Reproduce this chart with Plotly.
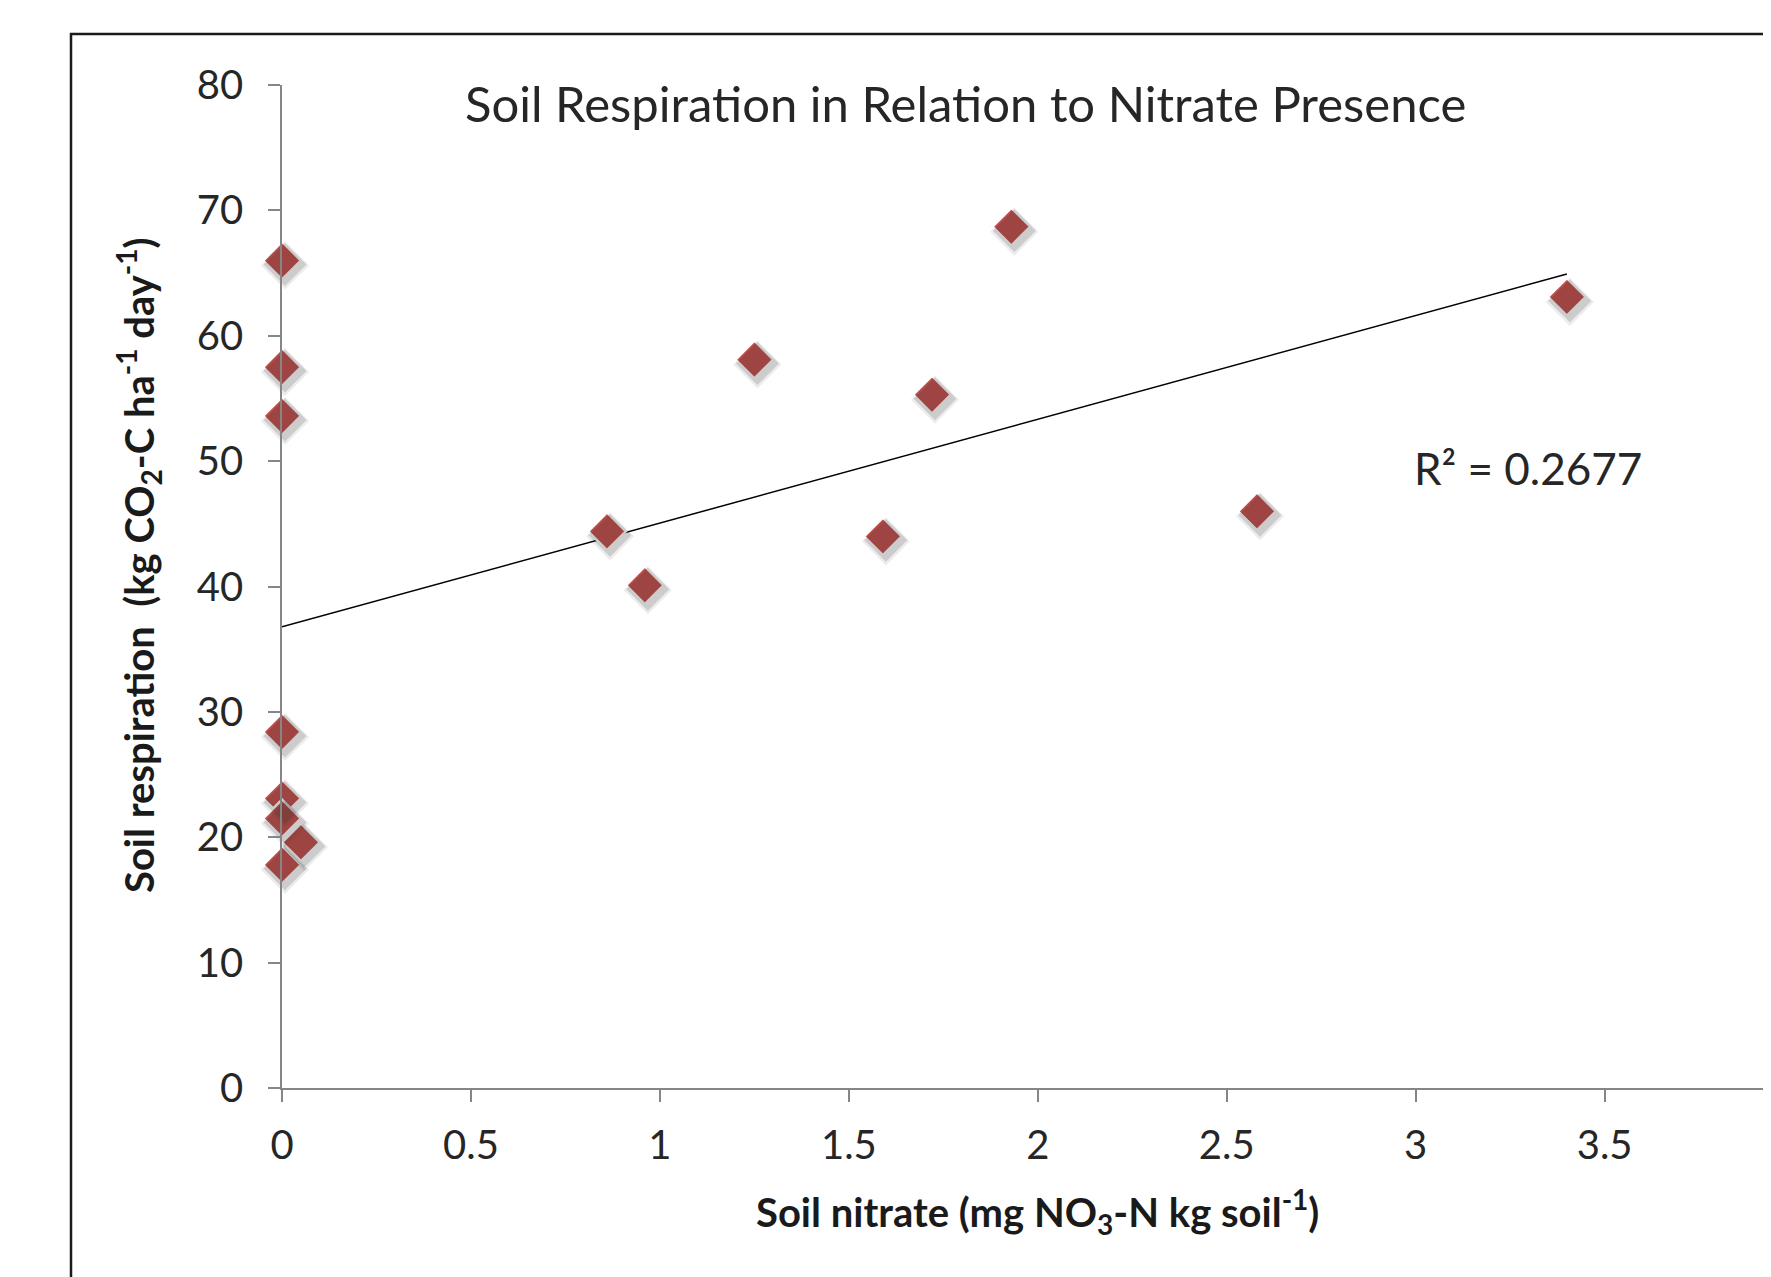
import numpy as np
import plotly.graph_objects as go

# ---- data ----
nitrate = [0, 0, 0, 0, 0, 0, 0.05, 0,
           0.86, 0.96, 1.25, 1.59, 1.72, 1.93, 2.58, 3.40]
respiration = [66.0, 57.5, 53.6, 28.4, 23.1, 21.5, 19.6, 17.8,
               44.4, 40.1, 58.1, 44.0, 55.3, 68.7, 46.0, 63.1]
r2_text = "R² = 0.2677"
title_text = "Soil Respiration in Relation to Nitrate Presence"
x_title = "Soil nitrate (mg NO<sub>3</sub>-N kg soil<sup>-1</sup>)"
y_title = "Soil respiration  (kg CO<sub>2</sub>-C ha<sup>-1</sup> day<sup>-1</sup>)"
x_ticks = [0, 0.5, 1, 1.5, 2, 2.5, 3, 3.5]
y_ticks = [0, 10, 20, 30, 40, 50, 60, 70, 80]

# ---- layout geometry (page body has an 8px margin) ----
OFF = 8
W, H = 1771 - OFF, 1277 - OFF
L, R, T, B = 282 - OFF, 0, 85 - OFF, 1277 - 1088
plot_w = W - L - R
plot_h = H - T - B
px_per_x = 377.9
xmax = plot_w / px_per_x
ymax = 80
px_per_y = plot_h / ymax


def px(xp):
    return (xp - OFF - L) / plot_w


def py(yp):
    return 1 - (yp - OFF - T) / plot_h


slope, intercept = np.polyfit(nitrate, respiration, 1)
tx = [0, max(nitrate)]
ty = [intercept + slope * v for v in tx]

FONT = "Lato"
red = "#C4504C"
txt = "#262626"

fig = go.Figure()

# soft shadow (drawn on offset overlay axes)
for k, (dxp, dyp, sz, a) in enumerate([(3, 5, 37, 0.09), (3, 4, 33, 0.16)]):
    sdx, sdy = dxp / px_per_x, dyp / px_per_y
    ax = str(k + 2)
    fig.add_trace(go.Scatter(
        x=nitrate, y=respiration, mode="markers", xaxis="x" + ax, yaxis="y" + ax,
        marker=dict(symbol="diamond", size=sz, color=f"rgba(40,40,40,{a})",
                    line=dict(width=0)),
        cliponaxis=False, hoverinfo="skip", showlegend=False))
    fig.layout["xaxis" + ax] = dict(range=[0 - sdx, xmax - sdx], overlaying="x", visible=False)
    fig.layout["yaxis" + ax] = dict(range=[0 + sdy, ymax + sdy], overlaying="y", visible=False)

fig.add_trace(go.Scatter(
    x=tx, y=ty, mode="lines", line=dict(color="black", width=1.5),
    showlegend=False, hoverinfo="skip"))

fig.add_trace(go.Scatter(
    x=nitrate, y=respiration, mode="markers",
    marker=dict(symbol="diamond", size=29, color=red,
                line=dict(color="white", width=2.5)),
    cliponaxis=False, showlegend=False))

axis_gray = "#868686"
fig.update_layout(
    width=W, height=H,
    margin=dict(l=L, r=R, t=T, b=B, pad=0),
    paper_bgcolor="white", plot_bgcolor="white",
    font=dict(family=FONT, color=txt),
    xaxis=dict(range=[0, xmax], tickvals=x_ticks, ticktext=[str(v) for v in x_ticks],
               showgrid=False, zeroline=False, showline=True, linecolor=axis_gray,
               linewidth=1.5, ticks="outside", ticklen=12, tickcolor=axis_gray,
               tickwidth=1.5, tickfont=dict(size=40, family=FONT, color=txt),
               ticklabelstandoff=9),
    yaxis=dict(range=[0, ymax], tickvals=y_ticks,
               showgrid=False, zeroline=False, showline=True, linecolor=axis_gray,
               linewidth=1.5, ticks="outside", ticklen=12, tickcolor=axis_gray,
               tickwidth=1.5, tickfont=dict(size=40, family=FONT, color=txt),
               ticklabelstandoff=17),
)

# outer chart border (cropped at right/bottom as in reference)
fig.add_shape(type="rect", xref="paper", yref="paper",
              x0=px(71), x1=1.2, y0=-0.5, y1=py(34),
              line=dict(color="#1a1a1a", width=2.5), layer="above")

fig.add_annotation(text=title_text, xref="paper", yref="paper",
                   x=px(965), y=py(103),
                   showarrow=False, xanchor="center", yanchor="middle",
                   font=dict(size=49, family=FONT, color=txt))
fig.add_annotation(text=r2_text, xref="paper", yref="paper",
                   x=px(1412), y=py(468),
                   showarrow=False, xanchor="left", yanchor="middle",
                   font=dict(size=44, family=FONT, color=txt))
fig.add_annotation(text="<b>" + x_title + "</b>", xref="x", yref="paper",
                   x=2.0, y=py(1211),
                   showarrow=False, xanchor="center", yanchor="middle",
                   font=dict(size=40, family=FONT, color="#1a1a1a"))
fig.add_annotation(text="<b>" + y_title + "</b>", xref="paper", yref="paper",
                   x=px(138), y=py(566),
                   textangle=-90, showarrow=False, xanchor="center", yanchor="middle",
                   font=dict(size=40, family=FONT, color="#1a1a1a"))

fig.write_html("out.html")
